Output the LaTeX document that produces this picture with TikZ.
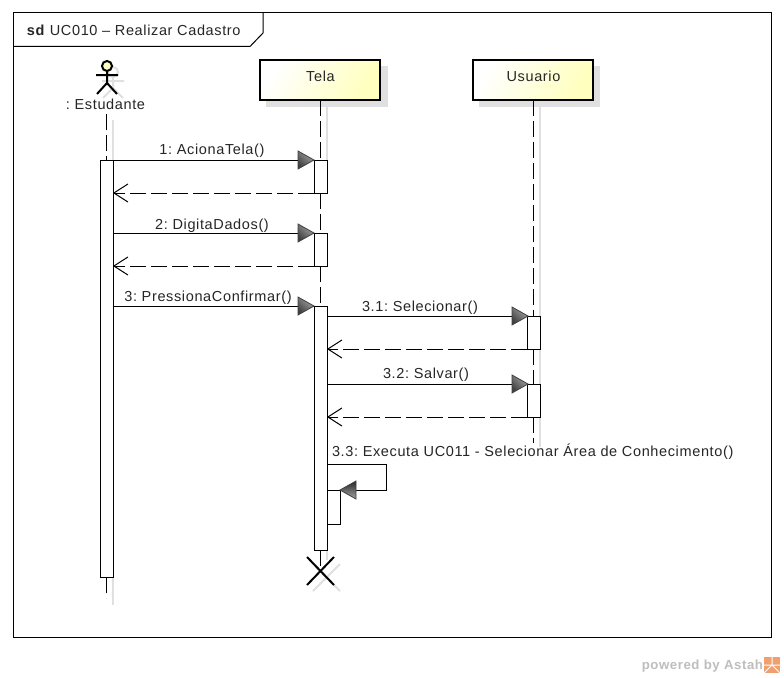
\documentclass[tikz,border=0pt]{standalone}
\usepackage{fontspec}
\setmainfont[LetterSpace=4.4]{Liberation Sans}
\usetikzlibrary{arrows.meta,shadings}
\definecolor{shadowgray}{RGB}{224,224,224}
\definecolor{boxyellow}{RGB}{255,255,190}
\definecolor{wm}{RGB}{190,190,190}
\definecolor{astah}{RGB}{240,160,110}
\tikzset{
  x=1pt,y=-1pt,
  every node/.style={font=\fontsize{14.5pt}{16pt}\selectfont,text=black!85,inner sep=0pt,outer sep=0pt},
  lifeline/.style={draw=black,line width=1pt,dash pattern=on 16pt off 5pt},
  lifeshadow/.style={draw=shadowgray,line width=1.2pt},
  lifebox/.style={draw=black,line width=2.8pt,left color=white,right color=boxyellow,shading angle=60,minimum width=120pt,minimum height=40pt,anchor=north west},
  bar/.style={draw=black,line width=1pt,fill=white,minimum width=13pt,anchor=north west},
  msg/.style={draw=black,line width=1pt},
  ret/.style={draw=black,line width=1pt,dash pattern=on 16pt off 5pt,-{Straight Barb[length=14pt,width=18pt,line width=1pt]}},
  lab/.style={anchor=base}
}
\begin{document}
\frenchspacing
\begin{tikzpicture}
\useasboundingbox (0,0) rectangle (784,677);
\fill[white] (0,0) rectangle (784,677);
% frame
\node[draw=black,line width=1pt,minimum width=758pt,minimum height=624pt,anchor=north west] (frame) at (13,13) {};
\coordinate (t1) at (13,46.5);
\coordinate (t2) at (250,46.5);
\coordinate (t3) at (263,33);
\coordinate (t4) at (263,13);
\draw[line width=1pt] (t1) -- (t2) -- (t3) -- (t4);
\node[anchor=base west] (title) at (27,36) {\textbf{sd} UC010 – Realizar Cadastro};
% shadows
\fill[shadowgray] (266,66) rectangle (388,107);
\fill[shadowgray] (479,66) rectangle (600,107);
\draw[lifeshadow] (113,120) -- (113,605);
\draw[lifeshadow] (327,107) -- (327,160);
\draw[lifeshadow] (327,550) -- (327,560);
\draw[lifeshadow] (540,107) -- (540,316);
\draw[lifeshadow] (540,349) -- (540,384);
\draw[lifeshadow] (540,417) -- (540,447);
\draw[shadowgray,line width=2pt] (313,564) -- (340,591) (340,564) -- (313,591);
\draw[shadowgray,line width=2pt] (113,72) circle (5) (113,76) -- (113,88) (102,81) -- (124,81) (103,98) -- (113,88) -- (123,98);
% heads
\node[lifebox] (tela) at (260,60) {};
\node at (320.5,76) [anchor=center] (telat) {Tela};
\node[lifebox] (usuario) at (473,60) {};
\node at (533.5,76) [anchor=center] (usuariot) {Usuario};
% actor
\node[draw=black,line width=2pt,circle,minimum size=10pt,fill=boxyellow] (head) at (107,66) {};
\coordinate (neck) at (107,71);
\coordinate (hip) at (107,83);
\coordinate (arml) at (96,75);
\coordinate (armr) at (118,75);
\coordinate (legl) at (97,94);
\coordinate (legr) at (117,94);
\draw[line width=2pt] (neck) -- (hip) (arml) -- (armr) (legl) -- (hip) -- (legr);
\node[anchor=base] (est) at (105.5,109) {: Estudante};
% lifeline ends
\coordinate (estend) at (106.5,598);
\coordinate (usend) at (533.5,443);
\coordinate (estl) at (106.5,114);
% bars
\node[bar,minimum height=417pt] (A) at (100,160) {};
\node[bar,minimum height=33pt] (T1) at (314,160) {};
\node[bar,minimum height=33pt] (T2) at (314,233) {};
\node[bar,minimum height=244pt] (T3) at (314,306) {};
\node[bar,minimum height=34pt] (S) at (327,490) {};
\node[bar,minimum height=33pt] (U1) at (527,316) {};
\node[bar,minimum height=33pt] (U2) at (527,384) {};
% lifelines
\draw[lifeline] (estl) -- (A.north west -| estl);
\draw[lifeline] (A.south west -| estl) -- (estend);
\draw[lifeline] (tela.south) ++(0.5,0) -- (T1.north);
\draw[lifeline] (T1.south) -- (T2.north);
\draw[lifeline] (T2.south) -- (T3.north);
\draw[lifeline] (usuario.south) ++(0.5,0) -- (U1.north);
\draw[lifeline] (U1.south) -- (U2.north);
\draw[lifeline] (U2.south) -- (usend);
% destroy
\coordinate (xc) at (320.5,571);
\draw[lifeline] (T3.south) -- (xc);
\draw[line width=2pt] (xc) ++(-13.5,-14) -- ++(27,28) (xc) ++(13.5,-14) -- ++(-27,28);
% messages
\draw[msg] (A.north east) -- (T1.north west);
\draw[ret] (T1.south west) -- (T1.south west -| A.east);
\coordinate (m2) at (T2.north west -| A.east);
\draw[msg] (m2) -- (T2.north west);
\draw[ret] (T2.south west) -- (T2.south west -| A.east);
\coordinate (m3) at (T3.north west -| A.east);
\draw[msg] (m3) -- (T3.north west);
\coordinate (m31) at (U1.north west -| T3.east);
\draw[msg] (m31) -- (U1.north west);
\draw[ret] (U1.south west) -- (U1.south west -| T3.east);
\coordinate (m32) at (U2.north west -| T3.east);
\draw[msg] (m32) -- (U2.north west);
\draw[ret] (U2.south west) -- (U2.south west -| T3.east);
% self
\coordinate (s1) at (327,464);
\coordinate (s2) at (386.5,464);
\coordinate (s3) at (386.5,490);
\draw[msg] (s1) -- (s2) -- (s3) -- (S.north east);
% tips
\foreach \x/\y in {298/160,298/233,298/306,512/316,512/384}{
  \shade[left color=black!35,right color=black!75,shading angle=-45,draw=black!75,line width=.8pt] (\x,\y-9) -- (\x+16,\y) -- (\x,\y+9) -- cycle;
}
\shade[left color=black!85,right color=black!35,shading angle=0,draw=black!75,line width=.8pt] (356,481) -- (340,490) -- (356,499) -- cycle;
% labels
\node[lab] (l1) at (212,154) {1: AcionaTela()};
\node[lab] (l2) at (212,229) {2: DigitaDados()};
\node[lab] (l3) at (208,301) {3: PressionaConfirmar()};
\node[lab] (l31) at (420,311) {3.1: Selecionar()};
\node[lab] (l32) at (426,378) {3.2: Salvar()};
\node[anchor=base west] (l33) at (332,456) {3.3: Executa UC011 - Selecionar Área de Conhecimento()};
% watermark
\node[anchor=base east,text=wm,font=\fontsize{13.2pt}{15pt}\selectfont\bfseries] (wmk) at (763,669) {powered by Astah};
\node[fill=astah,minimum size=16pt,anchor=north west] (logo) at (764,657) {};
\draw[white,line width=1pt] (logo.west) -- (logo.east) (logo.north) -- (logo.center) (logo.center) -- (logo.south west) (logo.center) -- (logo.south east);
\end{tikzpicture}
\end{document}
